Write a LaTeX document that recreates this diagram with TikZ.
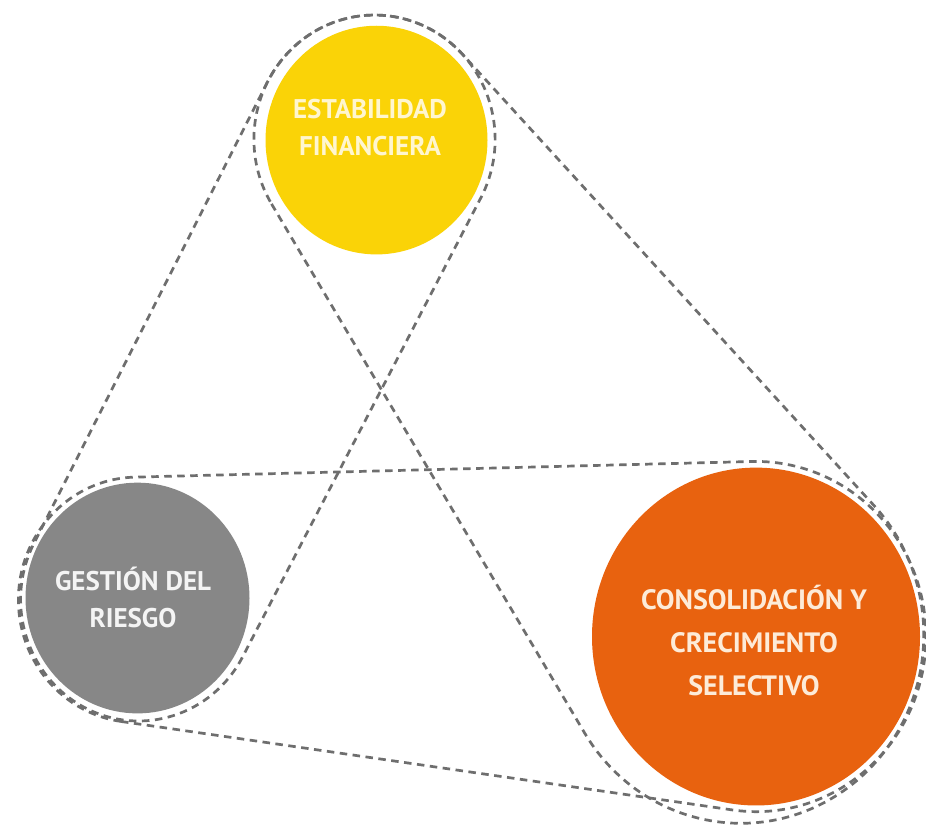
\documentclass[tikz,border=0pt]{standalone}
\usepackage{fontspec}
\setmainfont{PT Sans}
\usetikzlibrary{calc}
\definecolor{cyel}{HTML}{FAD307}
\definecolor{cgray}{HTML}{878787}
\definecolor{corg}{HTML}{E8620F}
\definecolor{cdash}{HTML}{6E6E6E}
\definecolor{tyel}{HTML}{FFF6CF}
\definecolor{tgray}{HTML}{F4F4F4}
\definecolor{torg}{HTML}{FDEBD8}
\tikzset{
  hull/.style={draw=cdash, line width=2.7pt, dash pattern=on 7.5pt off 5.5pt},
  lbl/.style={font=\bfseries\fontsize{27}{37}\selectfont, align=center},
  lblbig/.style={font=\bfseries\fontsize{28}{43}\selectfont, align=center},
}
% hull of two circles: x1,y1,r1,x2,y2,r2
\newcommand\hullpath[6]{%
  \pgfmathsetmacro\hth{atan2(#5-#2,#4-#1)}%
  \pgfmathsetmacro\hD{veclen(#4-#1,#5-#2)}%
  \pgfmathsetmacro\hal{acos((#3-#6)/\hD)}%
  \pgfmathsetmacro\hnA{\hth+\hal}%
  \pgfmathsetmacro\hnB{\hth-\hal}%
  \pgfmathsetmacro\hnC{\hnA-360}%
  \draw[hull] ($(#1,#2)+(\hnA:#3)$) -- ($(#4,#5)+(\hnA:#6)$)
     arc[start angle=\hnA, end angle=\hnB, radius=#6]
     -- ($(#1,#2)+(\hnB:#3)$)
     arc[start angle=\hnB, end angle=\hnC, radius=#3] -- cycle;
}
\begin{document}
\begin{tikzpicture}[x=1pt, y=-1.03pt]
  \useasboundingbox[fill=white] (0,0) rectangle (926,801.94);
  % coloured circles
  \coordinate (cY) at (376.5,136);
  \coordinate (cG) at (137.5,580.6);
  \coordinate (cO) at (756,618);
  \fill[cyel] (cY) circle[radius=111];
  \fill[cgray] (cG) circle[radius=112];
  \fill[corg] (cO) circle[radius=164];
  % dashed hulls
  \hullpath{374.5}{135.2}{120.6}{138.6}{582}{118}
  \hullpath{374.5}{135.2}{120.6}{740.8}{616.3}{183}
  \hullpath{137.6}{582.4}{119.2}{756}{618}{170}
  % labels
  \node[lbl, text=tyel] (tY) at (370,124.3) {ESTABILIDAD\\FINANCIERA};
  \node[lbl, text=tgray] (tG) at (133,579.6) {GESTIÓN DEL\\RIESGO};
  \node[lblbig, text=torg] (tO) at (754,622.3) {CONSOLIDACIÓN Y\\CRECIMIENTO\\SELECTIVO};
\end{tikzpicture}
\end{document}
